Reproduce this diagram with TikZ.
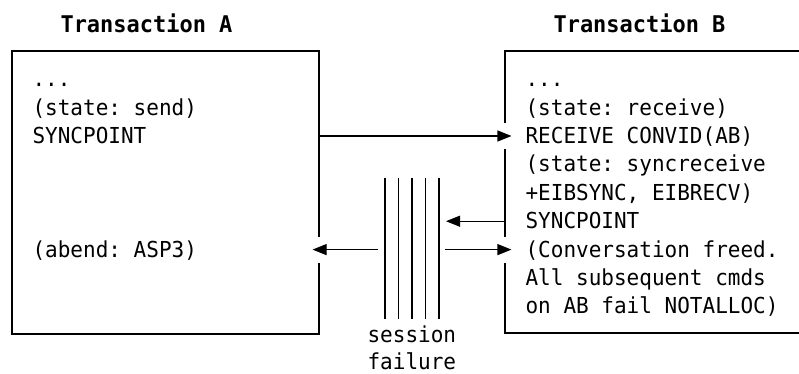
\documentclass[tikz,border=0pt]{standalone}
\usepackage{fontspec}
\setmonofont[FakeStretch=0.955]{DejaVu Sans Mono}
\usepackage{tikz}
\usetikzlibrary{arrows.meta}

\begin{document}
\begin{tikzpicture}[x=1pt,y=-1pt,line width=1.1pt,
	box node/.style={rectangle, draw, inner sep=0pt},
	line node/.style={anchor=base west, inner sep=0pt, text height=15pt, text depth=0pt, font=\ttfamily\fontsize{22}{24}\selectfont},
	title node/.style={anchor=base west, inner sep=0pt, font=\ttfamily\bfseries\fontsize{23}{26}\selectfont},
	arr/.style={-{Triangle[length=14pt,width=11pt]}},
	gap/.style={draw=white, line width=3pt}]
			\useasboundingbox (0,0) rectangle (799,373);
			
			% Boxes
			\node [box node, minimum width=307pt, minimum height=283pt] (A) at (165.5,192.5) {};
			\node [box node, minimum width=400pt, minimum height=282pt] (B) at (705,192) {};
			
			\node [title node] (tA) at (60,32) {Transaction A};
			\node [title node] (tB) at (553,32) {Transaction B};
			
			% Transaction A
			\node [line node] (a1) at (32,86.7) {...};
			\node [line node] (a2) at (32,115.1) {(state: send)};
			\node [line node] (a3) at (32,143.5) {SYNCPOINT};
			\node [line node] (a7) at (32,257.1) {(abend: ASP3)};
			
			% Transaction B
			\node [line node] (b1) at (525,86.7) {...};
			\node [line node] (b2) at (525,115.1) {(state: receive)};
			\node [line node] (b3) at (525,143.5) {RECEIVE CONVID(AB)};
			\node [line node] (b4) at (525,171.9) {(state: syncreceive};
			\node [line node] (b5) at (525,200.3) {+EIBSYNC, EIBRECV)};
			\node [line node] (b6) at (525,228.7) {SYNCPOINT};
			\node [line node] (b7) at (525,257.1) {(Conversation freed.};
			\node [line node] (b8) at (525,285.5) {All subsequent cmds};
			\node [line node] (b9) at (525,313.9) {on AB fail NOTALLOC)};
			
			% session failure
			\foreach \i/\x in {1/385,2/398.5,3/412,4/425.5,5/439}
			{
				\coordinate (s\i) at (\x,178);
				\draw (s\i) -- ++(0,141);
			}
			\node [line node] (f1) at (367,342) {session};
			\node [line node] (f2) at (367,369) {failure};
			
			% gaps in the box borders
			\foreach \p in {B.west |- b3, B.west |- b7, A.east |- a7}
			\draw [gap] ([yshift=13pt]\p) -- ([yshift=-13pt]\p);
			
			% Arrows
			\draw [arr] (a3 -| A.east) -- ([xshift=7pt]b3 -| B.west);
			\draw [arr] (b6 -| B.west) -- ([xshift=7pt]b6 -| s5);
			\draw [arr] ([xshift=6pt]b7 -| s5) -- ([xshift=7pt]b7 -| B.west);
			\draw [arr] ([xshift=-7pt]a7 -| s1) -- ([xshift=-7pt]a7 -| A.east);
			
		\end{tikzpicture}
\end{document}
